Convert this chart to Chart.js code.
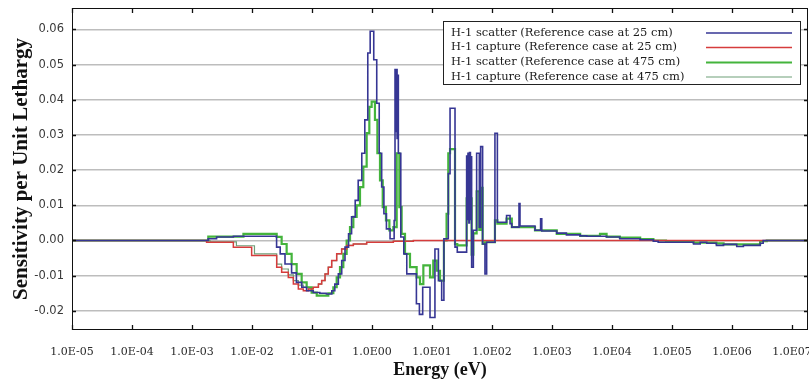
<!DOCTYPE html>
<html>
<head>
<meta charset="utf-8">
<script src="https://cdn.jsdelivr.net/npm/chart.js@4.4.0/dist/chart.umd.min.js"></script>
<style>
  html, body { margin: 0; padding: 0; background: #fff; }
  #wrap { width: 809px; height: 379px; }
</style>
</head>
<body>
<div id="wrap"><canvas id="mycanvas"></canvas></div>
<script>
// bin start energies (eV) and sensitivity per unit lethargy
var scatter25E = [1e-5, 1.86e-3, 2.57e-3, 4.9e-3, 0.0257, 0.0295, 0.0355, 0.0457, 0.055, 0.0676,
  0.0813, 0.105, 0.135, 0.174, 0.214, 0.24, 0.275, 0.313, 0.355, 0.407,
  0.457, 0.525, 0.589, 0.676, 0.759, 0.851, 0.933, 1.07, 1.2, 1.32,
  1.45, 1.58, 1.74, 2.0, 2.34, 2.42, 2.5, 2.55, 2.62, 2.67,
  2.75, 3.02, 3.39, 3.8, 5.5, 6.17, 7.0, 9.27, 11.2, 12.8,
  14.5, 15.8, 18.7, 20.0, 24.2, 26.4, 37.8, 38.9, 39.8, 41.2,
  42.2, 43.7, 44.7, 45.8, 48.9, 55.5, 61.5, 64.7, 69.8, 76.4,
  81.5, 112, 123, 175, 200, 214, 282, 293, 521, 646,
  676, 1200, 1740, 2950, 3800, 8130, 13500, 29500, 49000, 58900,
  229000, 295000, 380000, 550000, 724000, 1.2e6, 1.55e6, 2.95e6, 3.31e6, 2e7];
var scatter25V = [0, 0.0005, 0.001, 0.0012, -0.0019, -0.0038, -0.0067, -0.0092, -0.0119, -0.0133,
  -0.0143, -0.0148, -0.015, -0.0152, -0.0143, -0.0124, -0.0095, -0.0057, -0.0019, 0.0019,
  0.0067, 0.0114, 0.0171, 0.0248, 0.0343, 0.0533, 0.0595, 0.0514, 0.039, 0.0248,
  0.0152, 0.0076, 0.0033, 0.0005, 0.0057, 0.0486, 0.031, 0.0486, 0.029, 0.047,
  0.0248, 0.001, -0.0038, -0.0095, -0.018, -0.021, -0.0133, -0.0219, -0.0024, -0.0114,
  -0.017, 0.0005, 0.019, 0.0376, -0.0019, -0.0033, 0.024, 0.006, 0.0248, 0.005,
  0.025, 0.006, 0.0238, -0.0076, 0.0029, 0.0248, 0.0038, 0.0267, -0.001, -0.0095,
  -0.0005, 0.0305, 0.0052, 0.0071, 0.0048, 0.0038, 0.0105, 0.0041, 0.0029, 0.0062,
  0.0027, 0.0021, 0.0016, 0.0013, 0.0012, 0.001, 0.0005, 0.0002, -0.0002, -0.0005,
  -0.001, -0.0005, -0.0008, -0.0014, -0.0011, -0.0017, -0.0014, -0.0008, 0, 0];

var capture25E = [1e-5, 1.75e-3, 4.89e-3, 9.87e-3, 0.0258, 0.0312, 0.0403, 0.0489, 0.0592, 0.0717,
  0.0869, 0.105, 0.128, 0.145, 0.165, 0.187, 0.213, 0.258, 0.312, 0.378,
  0.489, 0.815, 2.27, 4.89, 2e7];
var capture25V = [0, -0.0005, -0.0019, -0.0043, -0.0076, -0.009, -0.0105, -0.0124, -0.0138, -0.0143,
  -0.0138, -0.0133, -0.0124, -0.0114, -0.0095, -0.0076, -0.0057, -0.0038, -0.0024, -0.0014,
  -0.001, -0.0005, -0.0002, 0, 0];

var scatter475E = [1e-5, 1.87e-3, 7.2e-3, 0.0258, 0.0312, 0.0378, 0.0458, 0.0555, 0.0673, 0.0815,
  0.0987, 0.12, 0.187, 0.227, 0.258, 0.293, 0.333, 0.378, 0.43, 0.489,
  0.555, 0.631, 0.717, 0.815, 0.903, 0.987, 1.12, 1.23, 1.36, 1.51,
  1.71, 1.95, 2.27, 2.58, 2.86, 3.12, 3.55, 4.3, 5.55, 6.31,
  7.18, 9.27, 10.5, 12.0, 13.6, 15.8, 17.5, 18.7, 20.0, 24.2,
  26.4, 37.8, 45.8, 48.9, 55.5, 61.5, 64.7, 69.8, 76.4, 112,
  123, 175, 214, 293, 521, 1200, 2950, 6310, 8130, 13500,
  29500, 49000, 79400, 229000, 550000, 724000, 2.95e6, 3.8e6, 2e7];
var scatter475V = [0, 0.0011, 0.0019, 0.001, -0.001, -0.0038, -0.0067, -0.0095, -0.0119, -0.0133,
  -0.0148, -0.0157, -0.015, -0.0133, -0.0105, -0.0076, -0.0038, 0, 0.0038, 0.0067,
  0.01, 0.0152, 0.021, 0.0305, 0.038, 0.0395, 0.0343, 0.0248, 0.0171, 0.0095,
  0.0057, 0.0029, 0.0038, 0.0248, 0.0095, 0.0019, -0.0038, -0.0076, -0.0105, -0.0124,
  -0.0071, -0.0105, -0.0057, -0.0086, -0.0114, 0, 0.0076, 0.0248, 0.026, -0.001,
  -0.0014, 0.012, -0.004, 0.002, 0.014, 0.003, 0.015, -0.001, -0.0005, 0.0057,
  0.0048, 0.0062, 0.0038, 0.0038, 0.0029, 0.0019, 0.0013, 0.0019, 0.0011, 0.0008,
  0.0004, 0, -0.0002, -0.0006, -0.0008, -0.0011, -0.0002, 0, 0];

var capture475E = [1e-5, 2.0e-3, 5.5e-3, 0.011, 0.0258, 0.0312, 0.0403, 0.0489, 0.0592, 0.0717,
  0.0869, 0.105, 0.128, 0.145, 0.165, 0.187, 0.213, 0.258, 0.312, 0.378,
  0.489, 0.815, 2.27, 4.89, 2e7];
var capture475V = [0, -0.0004, -0.0015, -0.0038, -0.0067, -0.0081, -0.0098, -0.0114, -0.0127, -0.0133,
  -0.0135, -0.0133, -0.0124, -0.0114, -0.0095, -0.0076, -0.0057, -0.0038, -0.0024, -0.0014,
  -0.001, -0.0005, -0.0002, 0, 0];

var seriesNames = [
  'H-1 scatter (Reference case at 25 cm)',
  'H-1 capture (Reference case at 25 cm)',
  'H-1 scatter (Reference case at 475 cm)',
  'H-1 capture (Reference case at 475 cm)'
];
var seriesColors = ['#363694', '#d63c3c', '#44b43c', '#6f9f78'];
var seriesWidths = [1.6, 1.5, 2.2, 1.2];

var xTicks = [1e-5, 1e-4, 1e-3, 1e-2, 1e-1, 1, 10, 100, 1e3, 1e4, 1e5, 1e6, 1e7];
var yTicks = [-0.02, -0.01, 0, 0.01, 0.02, 0.03, 0.04, 0.05, 0.06];

function pts(E, V) {
  return E.map(function (e, i) { return { x: e, y: V[i] }; });
}

function sciLabel(v) {
  var e = Math.round(Math.log10(v));
  var s = String(Math.abs(e));
  if (s.length < 2) s = '0' + s;
  return '1.0E' + (e < 0 ? '-' : '') + s;
}

// black frame with inward tick marks
var framePlugin = {
  id: 'frame',
  afterDatasetsDraw: function (chart) {
    var a = chart.chartArea, c = chart.ctx;
    var xs = chart.scales.x, ys = chart.scales.y;
    c.save();
    c.strokeStyle = '#111';
    c.lineWidth = 1;
    c.strokeRect(a.left + 0.5, a.top + 0.5, a.right - a.left - 1, a.bottom - a.top - 1);
    c.lineWidth = 1.3;
    c.beginPath();
    xTicks.forEach(function (t) {
      var px = Math.round(xs.getPixelForValue(t)) + 0.5;
      c.moveTo(px, a.bottom); c.lineTo(px, a.bottom - 5);
      c.moveTo(px, a.top); c.lineTo(px, a.top + 5);
    });
    yTicks.forEach(function (t) {
      var py = Math.round(ys.getPixelForValue(t)) + 0.5;
      c.moveTo(a.left, py); c.lineTo(a.left + 4, py);
      c.moveTo(a.right, py); c.lineTo(a.right - 4, py);
    });
    c.stroke();
    c.restore();
  }
};

// boxed legend in the upper right, text left and line sample right
var legendPlugin = {
  id: 'boxLegend',
  afterDraw: function (chart) {
    var c = chart.ctx;
    var bx = 443.5, by = 21.5, bw = 357, bh = 63;
    var rows = [33, 47.5, 62.5, 77];
    c.save();
    c.fillStyle = '#fff';
    c.fillRect(bx, by, bw, bh);
    c.strokeStyle = '#222';
    c.lineWidth = 1;
    c.strokeRect(bx, by, bw, bh);
    c.font = '11.5px "DejaVu Serif"';
    c.textBaseline = 'middle';
    c.textAlign = 'left';
    for (var i = 0; i < seriesNames.length; i++) {
      c.fillStyle = '#1a1a1a';
      c.fillText(seriesNames[i], 451, rows[i]);
      c.strokeStyle = seriesColors[i];
      c.lineWidth = seriesWidths[i];
      c.beginPath();
      c.moveTo(706, rows[i]);
      c.lineTo(792, rows[i]);
      c.stroke();
    }
    c.restore();
  }
};

var datasets = [
  pts(scatter25E, scatter25V),
  pts(capture25E, capture25V),
  pts(scatter475E, scatter475V),
  pts(capture475E, capture475V)
].map(function (d, i) {
  return {
    label: seriesNames[i],
    data: d,
    borderColor: seriesColors[i],
    borderWidth: seriesWidths[i],
    stepped: 'before',
    pointRadius: 0,
    fill: false,
    tension: 0
  };
});

var ctx = document.getElementById('mycanvas');
var chart = new Chart(ctx, {
  type: 'line',
  data: { datasets: datasets },
  options: {
    responsive: true,
    maintainAspectRatio: false,
    animation: false,
    layout: { padding: { top: 8, right: 1, left: 0, bottom: 0 } },
    plugins: { legend: { display: false }, tooltip: { enabled: false } },
    scales: {
      x: {
        type: 'logarithmic',
        min: 1e-5,
        max: 1.85e7,
        afterBuildTicks: function (s) { s.ticks = xTicks.map(function (v) { return { value: v }; }); },
        afterFit: function (s) { s.height = 49; s.paddingLeft = 0; s.paddingRight = 0; },
        grid: { display: false },
        border: { display: false },
        ticks: {
          autoSkip: false,
          maxRotation: 0,
          padding: 8,
          color: '#2a2a2a',
          font: { family: '"DejaVu Serif"', size: 11 },
          callback: function (v) { return sciLabel(v); }
        },
        title: {
          display: true,
          text: 'Energy (eV)',
          color: '#111',
          font: { family: '"Liberation Serif"', size: 18, weight: 'bold', lineHeight: 1 },
          padding: { top: 0, bottom: 0 }
        }
      },
      y: {
        min: -0.02545,
        max: 0.0661,
        afterBuildTicks: function (s) { s.ticks = yTicks.map(function (v) { return { value: v }; }); },
        afterFit: function (s) { s.width = 72; s.paddingTop = 0; s.paddingBottom = 0; },
        grid: { color: '#bdbdbd', lineWidth: 1.5, drawTicks: false },
        border: { display: false },
        ticks: {
          padding: 8,
          color: '#3a3a3a',
          font: { family: '"DejaVu Sans"', size: 11.5 },
          callback: function (v) { return v.toFixed(2); }
        },
        title: {
          display: true,
          text: 'Sensitivity per Unit Lethargy',
          color: '#111',
          font: { family: '"Liberation Serif"', size: 21, weight: 'bold', lineHeight: 1 },
          padding: { top: 11, bottom: 0 }
        }
      }
    }
  },
  plugins: [framePlugin, legendPlugin]
});
</script>
</body>
</html>
